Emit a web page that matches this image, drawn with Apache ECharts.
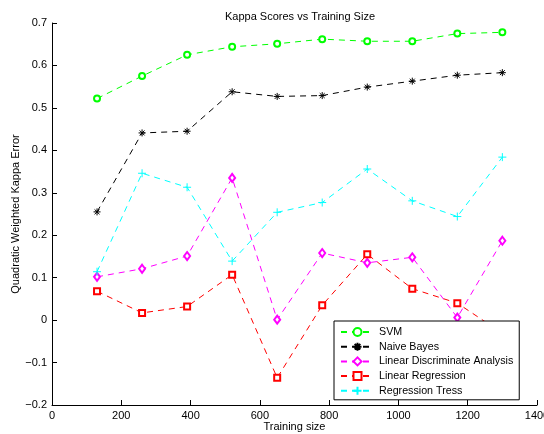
<!DOCTYPE html>
<html>
<head>
<meta charset="utf-8">
<title>Kappa Scores vs Training Size</title>
<script src="https://cdn.jsdelivr.net/npm/echarts@6/dist/echarts.min.js"></script>
<style>
	html, body { margin: 0; padding: 0; background: #fff; }
	#chart { width: 544px; height: 434px; }
</style>
</head>
<body>
<div id="chart"></div>
<script>
// 数据
var trainingSize = [130, 260, 390, 520, 650, 780, 910, 1040, 1170, 1300];
var svm = [0.522, 0.575, 0.625, 0.644, 0.651, 0.662, 0.657, 0.657, 0.675, 0.678];
var naiveBayes = [0.255, 0.441, 0.445, 0.538, 0.527, 0.529, 0.549, 0.563, 0.577, 0.583];
var lda = [0.102, 0.121, 0.151, 0.335, 0.001, 0.158, 0.135, 0.148, 0.006, 0.187];
var linearReg = [0.068, 0.017, 0.032, 0.107, -0.136, 0.035, 0.155, 0.074, 0.040, -0.031];
var regTrees = [0.114, 0.346, 0.313, 0.139, 0.254, 0.277, 0.356, 0.281, 0.244, 0.384];
var seriesNames = ['SVM', 'Naive Bayes', 'Linear Discriminate Analysis', 'Linear Regression', 'Regression Tress'];
var xTicks = [0, 1400, 200];
var yTicks = [-0.2, 0.7, 0.1];

var FONT = '"Liberation Sans", Arial, sans-serif';
var plusPath = 'path://M0,5L10,5M5,0L5,10';
var starPath = 'path://M0,5L10,5M5,0L5,10M1.5,1.5L8.5,8.5M1.5,8.5L8.5,1.5';

function pairs(ys) {
	var out = [];
	for (var i = 0; i < ys.length; i++) {
		out.push([trainingSize[i], ys[i]]);
	}
	return out;
}

function makeSeries(name, ys, color, symbol, size) {
	return {
		name: name,
		type: 'line',
		data: pairs(ys),
		symbol: symbol,
		symbolSize: size,
		showAllSymbol: true,
		lineStyle: { color: color, width: 1, type: [6, 5] },
		itemStyle: { color: color, borderColor: color, borderWidth: 1 },
		emphasis: { disabled: true },
		animation: false
	};
}

var myChart = echarts.init(document.getElementById('chart'));
var option = {
	backgroundColor: '#fff',
	textStyle: { fontFamily: FONT },
	title: {
		text: 'Kappa Scores vs Training Size',
		left: 295,
		top: 6,
		textAlign: 'center',
		textStyle: { fontSize: 11, fontWeight: 'normal', color: '#000', fontFamily: FONT }
	},
	grid: { left: 52, right: 7, top: 23, bottom: 29, outerBoundsMode: 'none' },
	legend: {
		orient: 'vertical',
		left: 334,
		top: 321,
		padding: [5.5, 6, 3.5, 6],
		itemWidth: 33,
		itemHeight: 10,
		itemGap: 3.7,
		backgroundColor: '#fff',
		borderColor: '#000',
		borderWidth: 1,
		textStyle: { fontSize: 10.7, color: '#000', fontFamily: FONT },
		data: seriesNames
	},
	xAxis: {
		type: 'value',
		min: xTicks[0],
		max: xTicks[1],
		interval: xTicks[2],
		name: 'Training size',
		nameLocation: 'middle',
		nameGap: 16,
		nameMoveOverlap: false,
		nameTextStyle: { fontSize: 11, color: '#000', fontFamily: FONT },
		axisLine: { onZero: false, lineStyle: { color: '#000', width: 1 } },
		axisTick: { inside: true, length: 5, lineStyle: { color: '#000' } },
		axisLabel: {
			fontSize: 11, color: '#000', margin: 5, fontFamily: FONT,
			formatter: function(v) { return String(v); }
		},
		splitLine: { show: false }
	},
	yAxis: {
		type: 'value',
		min: yTicks[0],
		max: yTicks[1],
		interval: yTicks[2],
		name: 'Quadratic Weighted Kappa Error',
		nameLocation: 'middle',
		nameGap: 31,
		nameMoveOverlap: false,
		nameTextStyle: { fontSize: 11, color: '#000', fontFamily: FONT },
		axisLine: { show: true, onZero: false, lineStyle: { color: '#000', width: 1 } },
		axisTick: { show: true, inside: true, length: 5, lineStyle: { color: '#000' } },
		axisLabel: {
			fontSize: 11, color: '#000', margin: 5, fontFamily: FONT,
			formatter: function(v) {
				var r = Math.round(v * 10) / 10;
				if (r === 0) return '0';
				return (r < 0 ? '\u2212' : '') + Math.abs(r).toFixed(1);
			}
		},
		splitLine: { show: false }
	},
	series: [
		makeSeries(seriesNames[0], svm, '#00ff00', 'emptyCircle', 6),
		makeSeries(seriesNames[1], naiveBayes, '#000000', starPath, 7),
		makeSeries(seriesNames[2], lda, '#ff00ff', 'emptyDiamond', [6, 8]),
		makeSeries(seriesNames[3], linearReg, '#ff0000', 'emptyRect', 6),
		makeSeries(seriesNames[4], regTrees, '#00ffff', plusPath, 8)
	]
};
myChart.setOption(option);
</script>
</body>
</html>
